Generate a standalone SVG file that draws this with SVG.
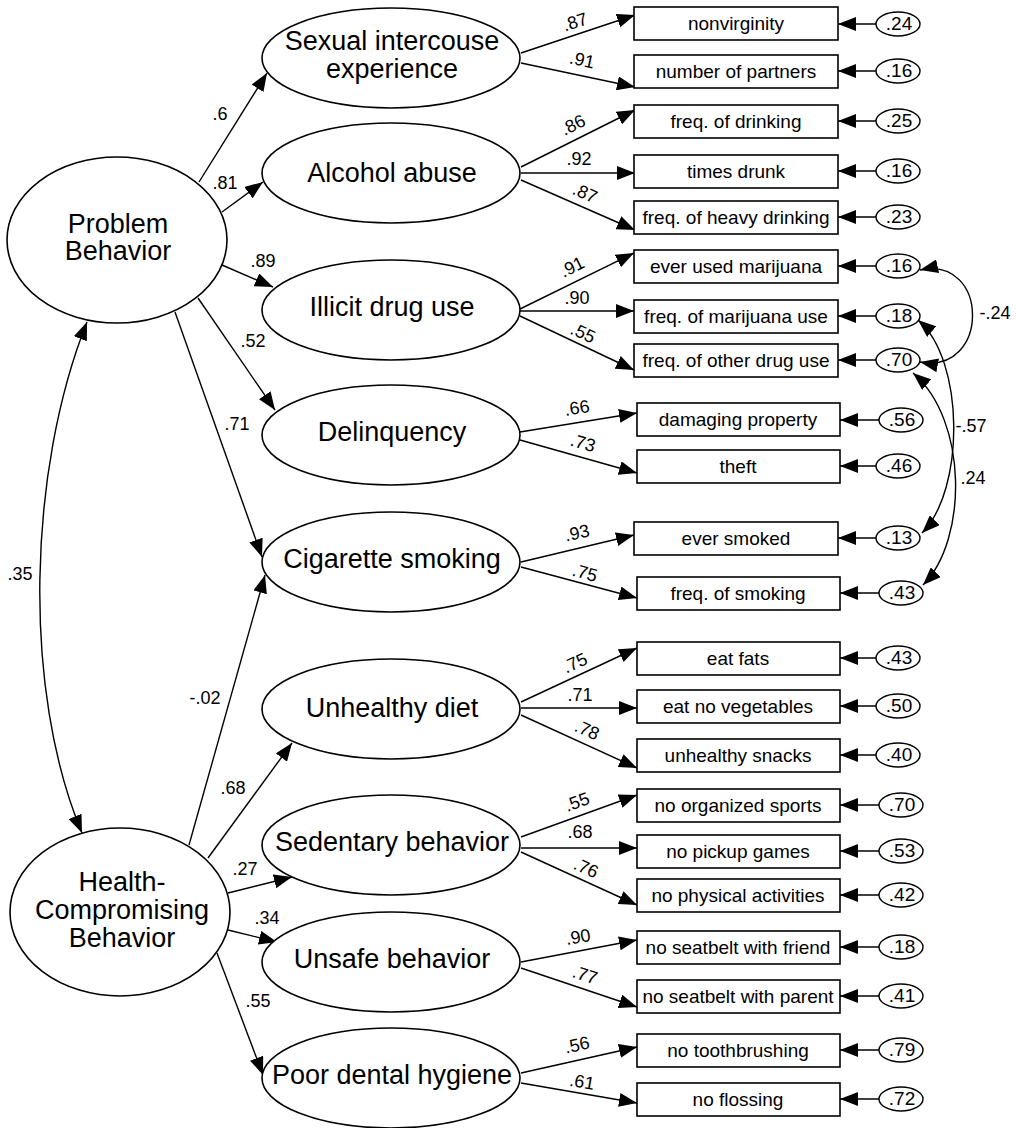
<svg xmlns="http://www.w3.org/2000/svg" width="1016" height="1128" viewBox="0 0 1016 1128">
<style>
  .lat { fill: #fff; stroke: #000; stroke-width: 1.6; }
  .box { fill: #fff; stroke: #000; stroke-width: 1.6; }
  .err { fill: #fff; stroke: #000; stroke-width: 1.4; }
  .ln { fill: none; stroke: #000; stroke-width: 1.4; marker-end: url(#ah); }
  .cov { fill: none; stroke: #000; stroke-width: 1.4; marker-start: url(#ahs); marker-end: url(#ah); }
  text { font-family: "Liberation Sans", Arial, sans-serif; fill: #000; text-anchor: middle; }
  .tl { font-size: 27px; }
  .tb { font-size: 19px; }
  .te { font-size: 19px; }
  .tp { font-size: 18px; }
</style>
<defs>
  <marker id="ah" markerUnits="userSpaceOnUse" markerWidth="18" markerHeight="14" refX="18" refY="7" orient="auto">
    <path d="M0,0 L18,7 L0,14 z" fill="#000"/>
  </marker>
  <marker id="ahs" markerUnits="userSpaceOnUse" markerWidth="18" markerHeight="14" refX="18" refY="7" orient="auto-start-reverse">
    <path d="M0,0 L18,7 L0,14 z" fill="#000"/>
  </marker>
</defs>
<rect width="1016" height="1128" fill="#fff"/>

<g id="connectors">
  <line class="ln" x1="199" y1="182" x2="267" y2="73"/>
  <line class="ln" x1="222" y1="212" x2="263" y2="182"/>
  <line class="ln" x1="222" y1="265" x2="273" y2="287"/>
  <line class="ln" x1="198" y1="298" x2="275" y2="410"/>
  <line class="ln" x1="175" y1="312" x2="262" y2="557"/>
  <line class="ln" x1="189" y1="845" x2="265" y2="575"/>
  <line class="ln" x1="208" y1="858" x2="292" y2="743"/>
  <line class="ln" x1="228" y1="893" x2="292" y2="877"/>
  <line class="ln" x1="228" y1="930" x2="277" y2="942"/>
  <line class="ln" x1="217" y1="953" x2="263" y2="1075"/>
  <path class="cov" d="M87 322 C28 470 22 690 82 833"/>
  <line class="ln" x1="521" y1="53" x2="635" y2="15"/>
  <line class="ln" x1="521" y1="63" x2="635" y2="87"/>
  <line class="ln" x1="521" y1="167" x2="635" y2="110"/>
  <line class="ln" x1="521" y1="173" x2="635" y2="173"/>
  <line class="ln" x1="521" y1="180" x2="635" y2="230"/>
  <line class="ln" x1="520" y1="309" x2="634" y2="253"/>
  <line class="ln" x1="520" y1="311" x2="634" y2="311"/>
  <line class="ln" x1="520" y1="316" x2="634" y2="370"/>
  <line class="ln" x1="520" y1="432" x2="637" y2="413"/>
  <line class="ln" x1="520" y1="440" x2="637" y2="473"/>
  <line class="ln" x1="521" y1="562" x2="634" y2="535"/>
  <line class="ln" x1="521" y1="567" x2="637" y2="598"/>
  <line class="ln" x1="521" y1="702" x2="637" y2="648"/>
  <line class="ln" x1="521" y1="708" x2="637" y2="708"/>
  <line class="ln" x1="521" y1="715" x2="637" y2="768"/>
  <line class="ln" x1="521" y1="837" x2="637" y2="795"/>
  <line class="ln" x1="521" y1="848" x2="637" y2="848"/>
  <line class="ln" x1="521" y1="852" x2="637" y2="905"/>
  <line class="ln" x1="521" y1="962" x2="637" y2="940"/>
  <line class="ln" x1="521" y1="968" x2="637" y2="1007"/>
  <line class="ln" x1="521" y1="1073" x2="637" y2="1047"/>
  <line class="ln" x1="521" y1="1083" x2="637" y2="1103"/>
  <line class="ln" x1="876" y1="24" x2="838" y2="24"/>
  <line class="ln" x1="876" y1="71" x2="838" y2="71"/>
  <line class="ln" x1="876" y1="121" x2="838" y2="121"/>
  <line class="ln" x1="876" y1="171" x2="838" y2="171"/>
  <line class="ln" x1="876" y1="217" x2="838" y2="217"/>
  <line class="ln" x1="876" y1="266" x2="838" y2="266"/>
  <line class="ln" x1="876" y1="316" x2="838" y2="316"/>
  <line class="ln" x1="876" y1="360" x2="838" y2="360"/>
  <line class="ln" x1="879" y1="420" x2="840" y2="420"/>
  <line class="ln" x1="876" y1="466" x2="840" y2="466"/>
  <line class="ln" x1="876" y1="538" x2="838" y2="538"/>
  <line class="ln" x1="879" y1="593" x2="840" y2="593"/>
  <line class="ln" x1="876" y1="658" x2="840" y2="658"/>
  <line class="ln" x1="876" y1="706" x2="840" y2="706"/>
  <line class="ln" x1="876" y1="755" x2="840" y2="755"/>
  <line class="ln" x1="879" y1="805" x2="840" y2="805"/>
  <line class="ln" x1="879" y1="851" x2="840" y2="851"/>
  <line class="ln" x1="879" y1="895" x2="840" y2="895"/>
  <line class="ln" x1="879" y1="947" x2="840" y2="947"/>
  <line class="ln" x1="879" y1="996" x2="840" y2="996"/>
  <line class="ln" x1="879" y1="1050" x2="840" y2="1050"/>
  <line class="ln" x1="879" y1="1099" x2="840" y2="1099"/>
  <path class="cov" d="M920 270 C990 255 990 375 920 362"/>
  <path class="cov" d="M918 320 C965 360 965 490 922 533"/>
  <path class="cov" d="M913 373 C968 420 968 540 923 585"/>
  <g class="tp">
    <text x="220" y="120">.6</text>
    <text x="225" y="189">.81</text>
    <text x="263" y="267">.89</text>
    <text x="253" y="347">.52</text>
    <text x="237" y="430">.71</text>
    <text x="20" y="580">.35</text>
    <text x="205" y="704">-.02</text>
    <text x="233" y="794">.68</text>
    <text x="245" y="875">.27</text>
    <text x="267" y="924">.34</text>
    <text x="258" y="1007">.55</text>
    <text x="575" y="28" transform="rotate(-18 575 22)">.87</text>
    <text x="582" y="66" transform="rotate(12 582 60)">.91</text>
    <text x="573" y="131" transform="rotate(-27 573 125)">.86</text>
    <text x="579" y="165">.92</text>
    <text x="585" y="199" transform="rotate(24 585 193)">.87</text>
    <text x="572" y="273" transform="rotate(-26 572 267)">.91</text>
    <text x="577" y="304">.90</text>
    <text x="583" y="339" transform="rotate(25 583 333)">.55</text>
    <text x="577" y="414" transform="rotate(-9 577 408)">.66</text>
    <text x="583" y="449" transform="rotate(16 583 443)">.73</text>
    <text x="577" y="539" transform="rotate(-12 577 533)">.93</text>
    <text x="585" y="579" transform="rotate(15 585 573)">.75</text>
    <text x="575" y="669" transform="rotate(-25 575 663)">.75</text>
    <text x="580" y="701">.71</text>
    <text x="587" y="736" transform="rotate(24 587 730)">.78</text>
    <text x="577" y="808" transform="rotate(-20 577 802)">.55</text>
    <text x="580" y="838">.68</text>
    <text x="586" y="874" transform="rotate(24 586 868)">.76</text>
    <text x="578" y="943" transform="rotate(-10 578 937)">.90</text>
    <text x="585" y="981" transform="rotate(18 585 975)">.77</text>
    <text x="577" y="1051" transform="rotate(-12 577 1045)">.56</text>
    <text x="582" y="1088" transform="rotate(10 582 1082)">.61</text>
    <text x="995" y="319">-.24</text>
    <text x="971" y="432">-.57</text>
    <text x="973" y="484">.24</text>
  </g>
</g>

<g id="problem-behavior"><ellipse class="lat" cx="117" cy="240" rx="110" ry="83"/><text class="tl" x="118" y="233">Problem</text><text class="tl" x="118" y="260">Behavior</text></g>
<g id="health-compromising"><ellipse class="lat" cx="120" cy="912" rx="110" ry="84"/><text class="tl" x="122" y="891">Health-</text><text class="tl" x="122" y="919">Compromising</text><text class="tl" x="122" y="947">Behavior</text></g>

<g id="sexual"><ellipse class="lat" cx="391" cy="58" rx="129" ry="50"/><text class="tl" x="392" y="50">Sexual intercouse</text><text class="tl" x="392" y="78">experience</text></g>
<g id="alcohol"><ellipse class="lat" cx="391" cy="173" rx="129" ry="50"/><text class="tl" x="392" y="182">Alcohol abuse</text></g>
<g id="illicit"><ellipse class="lat" cx="391" cy="310" rx="129" ry="50"/><text class="tl" x="392" y="316">Illicit drug use</text></g>
<g id="delinquency"><ellipse class="lat" cx="391" cy="435" rx="129" ry="50"/><text class="tl" x="392" y="441">Delinquency</text></g>
<g id="cigarette"><ellipse class="lat" cx="391" cy="562" rx="129" ry="50"/><text class="tl" x="392" y="568">Cigarette smoking</text></g>
<g id="diet"><ellipse class="lat" cx="391" cy="709" rx="129" ry="50"/><text class="tl" x="392" y="717">Unhealthy diet</text></g>
<g id="sedentary"><ellipse class="lat" cx="391" cy="845" rx="129" ry="50"/><text class="tl" x="392" y="851">Sedentary behavior</text></g>
<g id="unsafe"><ellipse class="lat" cx="391" cy="962" rx="129" ry="50"/><text class="tl" x="392" y="968">Unsafe behavior</text></g>
<g id="dental"><ellipse class="lat" cx="391" cy="1078" rx="129" ry="50"/><text class="tl" x="392" y="1084">Poor dental hygiene</text></g>

<g id="box-nonvirginity"><rect class="box" x="634" y="7" width="204" height="33"/><text class="tb" x="736" y="30">nonvirginity</text></g>
<g id="box-partners"><rect class="box" x="634" y="55" width="204" height="33"/><text class="tb" x="736" y="78">number of partners</text></g>
<g id="box-freqdrink"><rect class="box" x="634" y="105" width="204" height="33"/><text class="tb" x="736" y="128">freq. of drinking</text></g>
<g id="box-drunk"><rect class="box" x="634" y="155" width="204" height="33"/><text class="tb" x="736" y="178">times drunk</text></g>
<g id="box-heavy"><rect class="box" x="634" y="201" width="204" height="33"/><text class="tb" x="736" y="224">freq. of heavy drinking</text></g>
<g id="box-evermj"><rect class="box" x="634" y="250" width="204" height="33"/><text class="tb" x="736" y="273">ever used marijuana</text></g>
<g id="box-freqmj"><rect class="box" x="634" y="300" width="204" height="33"/><text class="tb" x="736" y="323">freq. of marijuana use</text></g>
<g id="box-otherdrug"><rect class="box" x="634" y="344" width="204" height="33"/><text class="tb" x="736" y="367">freq. of other drug use</text></g>
<g id="box-damaging"><rect class="box" x="637" y="403" width="203" height="33"/><text class="tb" x="738" y="426">damaging property</text></g>
<g id="box-theft"><rect class="box" x="637" y="450" width="203" height="33"/><text class="tb" x="738" y="473">theft</text></g>
<g id="box-eversmoked"><rect class="box" x="634" y="522" width="204" height="33"/><text class="tb" x="736" y="545">ever smoked</text></g>
<g id="box-freqsmoke"><rect class="box" x="637" y="577" width="203" height="33"/><text class="tb" x="738" y="600">freq. of smoking</text></g>
<g id="box-fats"><rect class="box" x="637" y="642" width="203" height="33"/><text class="tb" x="738" y="665">eat fats</text></g>
<g id="box-veg"><rect class="box" x="637" y="690" width="203" height="33"/><text class="tb" x="738" y="713">eat no vegetables</text></g>
<g id="box-snacks"><rect class="box" x="637" y="739" width="203" height="33"/><text class="tb" x="738" y="762">unhealthy snacks</text></g>
<g id="box-sports"><rect class="box" x="637" y="789" width="203" height="33"/><text class="tb" x="738" y="812">no organized sports</text></g>
<g id="box-pickup"><rect class="box" x="637" y="835" width="203" height="33"/><text class="tb" x="738" y="858">no pickup games</text></g>
<g id="box-physical"><rect class="box" x="637" y="879" width="203" height="33"/><text class="tb" x="738" y="902">no physical activities</text></g>
<g id="box-friend"><rect class="box" x="637" y="931" width="203" height="33"/><text class="tb" x="738" y="954">no seatbelt with friend</text></g>
<g id="box-parent"><rect class="box" x="637" y="980" width="203" height="33"/><text class="tb" x="738" y="1003">no seatbelt with parent</text></g>
<g id="box-tooth"><rect class="box" x="637" y="1034" width="203" height="33"/><text class="tb" x="738" y="1057">no toothbrushing</text></g>
<g id="box-floss"><rect class="box" x="637" y="1083" width="203" height="33"/><text class="tb" x="738" y="1106">no flossing</text></g>

<g id="e1"><ellipse class="err" cx="898" cy="24" rx="22" ry="12"/><text class="te" x="899" y="30">.24</text></g>
<g id="e2"><ellipse class="err" cx="898" cy="71" rx="22" ry="12"/><text class="te" x="899" y="77">.16</text></g>
<g id="e3"><ellipse class="err" cx="898" cy="121" rx="22" ry="12"/><text class="te" x="899" y="127">.25</text></g>
<g id="e4"><ellipse class="err" cx="898" cy="171" rx="22" ry="12"/><text class="te" x="899" y="177">.16</text></g>
<g id="e5"><ellipse class="err" cx="898" cy="217" rx="22" ry="12"/><text class="te" x="899" y="223">.23</text></g>
<g id="e6"><ellipse class="err" cx="898" cy="266" rx="22" ry="12"/><text class="te" x="899" y="272">.16</text></g>
<g id="e7"><ellipse class="err" cx="898" cy="316" rx="22" ry="12"/><text class="te" x="899" y="322">.18</text></g>
<g id="e8"><ellipse class="err" cx="898" cy="360" rx="22" ry="12"/><text class="te" x="899" y="366">.70</text></g>
<g id="e9"><ellipse class="err" cx="901" cy="420" rx="22" ry="12"/><text class="te" x="902" y="426">.56</text></g>
<g id="e10"><ellipse class="err" cx="898" cy="466" rx="22" ry="12"/><text class="te" x="899" y="472">.46</text></g>
<g id="e11"><ellipse class="err" cx="898" cy="538" rx="22" ry="12"/><text class="te" x="899" y="544">.13</text></g>
<g id="e12"><ellipse class="err" cx="901" cy="593" rx="22" ry="12"/><text class="te" x="902" y="599">.43</text></g>
<g id="e13"><ellipse class="err" cx="898" cy="658" rx="22" ry="12"/><text class="te" x="899" y="664">.43</text></g>
<g id="e14"><ellipse class="err" cx="898" cy="706" rx="22" ry="12"/><text class="te" x="899" y="712">.50</text></g>
<g id="e15"><ellipse class="err" cx="898" cy="755" rx="22" ry="12"/><text class="te" x="899" y="761">.40</text></g>
<g id="e16"><ellipse class="err" cx="901" cy="805" rx="22" ry="12"/><text class="te" x="902" y="811">.70</text></g>
<g id="e17"><ellipse class="err" cx="901" cy="851" rx="22" ry="12"/><text class="te" x="902" y="857">.53</text></g>
<g id="e18"><ellipse class="err" cx="901" cy="895" rx="22" ry="12"/><text class="te" x="902" y="901">.42</text></g>
<g id="e19"><ellipse class="err" cx="901" cy="947" rx="22" ry="12"/><text class="te" x="902" y="953">.18</text></g>
<g id="e20"><ellipse class="err" cx="901" cy="996" rx="22" ry="12"/><text class="te" x="902" y="1002">.41</text></g>
<g id="e21"><ellipse class="err" cx="901" cy="1050" rx="22" ry="12"/><text class="te" x="902" y="1056">.79</text></g>
<g id="e22"><ellipse class="err" cx="901" cy="1099" rx="22" ry="12"/><text class="te" x="902" y="1105">.72</text></g>
</svg>
